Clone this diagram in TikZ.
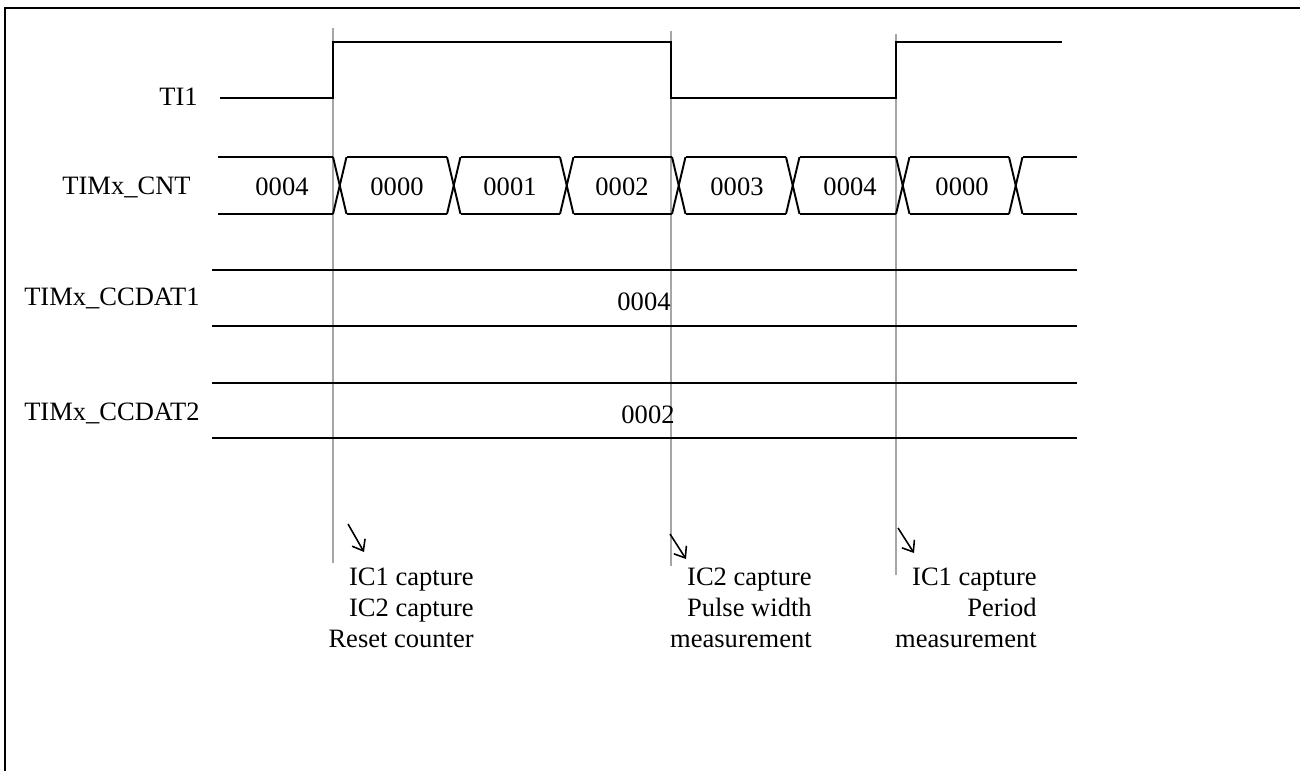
\documentclass[tikz,border=0pt]{standalone}
\usepackage{fontspec}
\setmainfont{Liberation Serif}
\usetikzlibrary{arrows.meta}
\tikzset{
  sig/.style={line width=1.1pt},
  marker/.style={gray!70, line width=0.8pt},
  lbl/.style={font=\fontsize{15.1}{17.4}\selectfont, inner sep=0pt},
  note/.style={lbl, align=right, anchor=north east},
  pointer/.style={-{Straight Barb[length=5.5pt,width=8.5pt]}, line width=0.9pt},
}
\begin{document}
\begin{tikzpicture}[x=0.02cm,y=-0.02cm]
  \useasboundingbox (0,0) rectangle (1300,771);
  \draw[line width=1.2pt] (5,771) -- (5,8) -- (1300,8);

  % edges
  \draw[marker] (333,28) -- (333,563);
  \draw[marker] (671,31) -- (671,566);
  \draw[marker] (896,34) -- (896,575);

  % TI1
  \node[lbl, anchor=east] (ti1) at (198,97) {TI1};
  \draw[sig] (220,98) -- (333,98) -- (333,42) -- (671,42) -- (671,98) -- (896,98) -- (896,42) -- (1062,42);

  % counter bus
  \node[lbl, anchor=east] (cnt) at (191,187) {TIMx\_CNT};
  \draw[sig] (218,157) -- (333,157);
  \draw[sig] (218,214) -- (333,214);
  \foreach \s/\e in {333/447, 447/560, 560/672, 672/786, 786/896, 896/1009, 1009/1077} {
    \draw[sig] (\s,157) -- (\s+13.5,214);
    \draw[sig] (\s,214) -- (\s+13.5,157);
    \draw[sig] (\s+13.5,157) -- (\e,157);
    \draw[sig] (\s+13.5,214) -- (\e,214);
  }
  \node[lbl] (v0) at (282,187) {0004};
  \node[lbl] (v1) at (397,187) {0000};
  \node[lbl] (v2) at (510,187) {0001};
  \node[lbl] (v3) at (622,187) {0002};
  \node[lbl] (v4) at (737,187) {0003};
  \node[lbl] (v5) at (850,187) {0004};
  \node[lbl] (v6) at (962,187) {0000};

  % capture registers
  \node[lbl, anchor=east] (ccr1) at (200,298) {TIMx\_CCDAT1};
  \draw[sig] (212,270) -- (1077,270);
  \draw[sig] (212,326) -- (1077,326);
  \node[lbl] (cc1) at (644,302) {0004};

  \node[lbl, anchor=east] (ccr2) at (200,413) {TIMx\_CCDAT2};
  \draw[sig] (212,383) -- (1077,383);
  \draw[sig] (212,438) -- (1077,438);
  \node[lbl] (cc2) at (648,415) {0002};

  \coordinate (a1) at (348,524);
  \coordinate (b1) at (364,552);
  \coordinate (a2) at (670,534);
  \coordinate (b2) at (686,559);
  \coordinate (a3) at (898,528);
  \coordinate (b3) at (914,553);
  \draw[pointer] (a1) -- (b1);
  \draw[pointer] (a2) -- (b2);
  \draw[pointer] (a3) -- (b3);

  \node[note] (n1) at (474,568) {IC1 capture\\IC2 capture\\Reset counter};
  \node[note] (n2) at (812,568) {IC2 capture\\Pulse width\\measurement};
  \node[note] (n3) at (1037,568) {IC1 capture\\Period\\measurement};
\end{tikzpicture}
\end{document}
